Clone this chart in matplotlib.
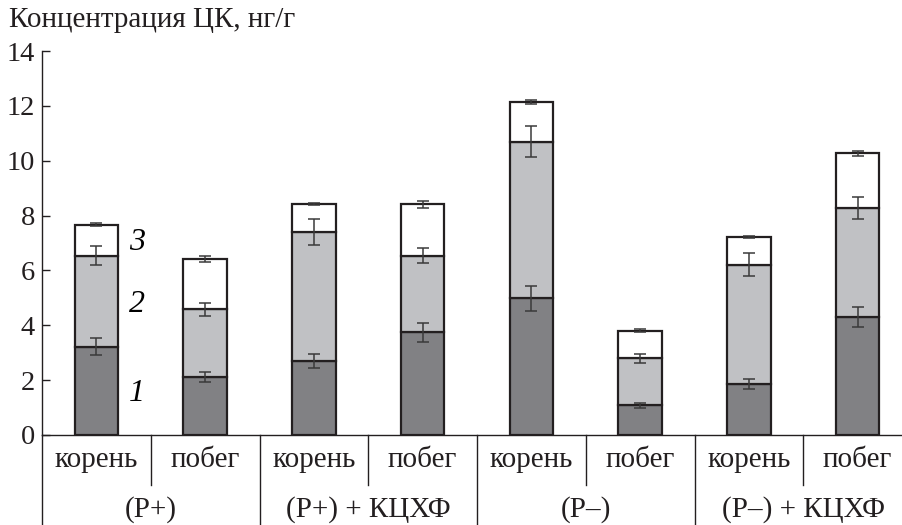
import matplotlib
matplotlib.use("Agg")
import matplotlib.pyplot as plt
import matplotlib.transforms as mtransforms

plt.rcParams['font.family'] = ['Liberation Serif', 'DejaVu Serif']

# данные: концентрация ЦК (нг/г) по фракциям 1, 2, 3
organs = ['корень', 'побег'] * 4
groups = ['(P+)', '(P+) + КЦХФ', '(P–)', '(P–) + КЦХФ']

frac1 = [3.22, 2.13, 2.70, 3.74, 4.98, 1.08, 1.86, 4.30]
frac2 = [3.32, 2.45, 4.71, 2.80, 5.71, 1.72, 4.35, 3.98]
frac3 = [1.13, 1.84, 1.01, 1.87, 1.45, 1.00, 1.01, 1.99]

err1 = [0.30, 0.18, 0.24, 0.35, 0.45, 0.10, 0.18, 0.38]
err2 = [0.35, 0.25, 0.47, 0.27, 0.57, 0.16, 0.43, 0.40]
err3 = [0.05, 0.12, 0.04, 0.12, 0.06, 0.05, 0.05, 0.10]

colors = ['#818184', '#c0c1c4', '#ffffff']
edge = '#231f20'

W, H = 902, 525
fig = plt.figure(figsize=(W / 100, H / 100), dpi=100)
ax = fig.add_axes([42 / W, (H - 435) / H, (W - 42) / W, (435 - 51) / H])

x = list(range(len(organs)))
bottom = [0.0] * len(x)
for vals, errs, col in zip([frac1, frac2, frac3], [err1, err2, err3], colors):
    ax.bar(x, vals, width=0.4, bottom=bottom, color=col, edgecolor=edge,
           linewidth=1.6, zorder=2)
    tops = [b + v for b, v in zip(bottom, vals)]
    ax.errorbar(x, tops, yerr=errs, fmt='none', ecolor='#3a3a3a',
                elinewidth=1.1, capsize=4, capthick=1.1, zorder=3)
    bottom = tops

ax.set_ylim(0, 14)
ax.set_xlim(-0.5, 7.5 - 10 / 108.75)
ax.set_yticks(range(0, 15, 2))
ax.tick_params(axis='y', direction='in', length=6, width=1, labelsize=20.5,
               pad=5, colors='#231f20')
ax.tick_params(axis='x', length=0, labelbottom=False)
for s in ['top', 'right']:
    ax.spines[s].set_visible(False)
ax.spines['left'].set_linewidth(1)
ax.spines['bottom'].set_linewidth(1)
ax.spines['left'].set_color('#231f20')
ax.spines['bottom'].set_color('#231f20')

# подписи фракций
ax.text(0.37, 1.5, '1', fontsize=23, style='italic', ha='center', va='center')
ax.text(0.37, 4.75, '2', fontsize=23, style='italic', ha='center', va='center')
ax.text(0.37, 7.0, '3', fontsize=23, style='italic', ha='center', va='center')

# двухуровневые подписи оси X
trans = mtransforms.blended_transform_factory(ax.transData, ax.transAxes)
y_low = -(525 - 435) / 384
y_mid = -(485 - 435) / 384
for i, name in enumerate(organs):
    ax.text(i, -(460 - 435) / 384, name, transform=trans, ha='center',
            va='center', fontsize=21, color='#231f20')
    if i % 2 == 1:
        ax.plot([i - 0.5, i - 0.5], [0, y_mid], transform=trans, color=edge,
                lw=1, clip_on=False)
for j, g in enumerate(groups):
    ax.text(2 * j + 0.5, -(510 - 435) / 384, g, transform=trans, ha='center',
            va='center', fontsize=21, color='#231f20')
    ax.plot([2 * j - 0.5, 2 * j - 0.5], [0, y_low], transform=trans,
            color=edge, lw=1, clip_on=False)

fig.text(9 / W, 1 - 20 / H, 'Концентрация ЦК, нг/г', fontsize=21,
         ha='left', va='center', color='#231f20')

fig.savefig('out.png', dpi=100)
